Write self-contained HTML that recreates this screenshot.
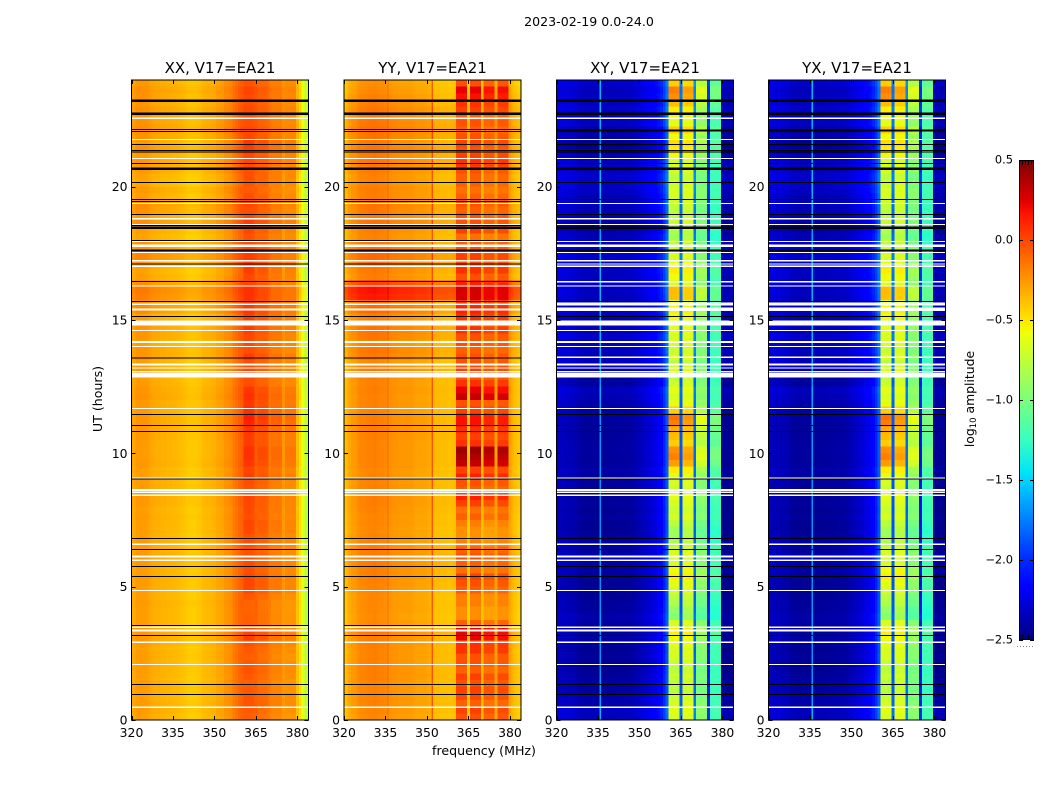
<!DOCTYPE html>
<html>
<head>
<meta charset="utf-8">
<title>2023-02-19 0.0-24.0</title>
<style>
html,body{margin:0;padding:0;background:#fff;}
svg{display:block;}
text{font-family:"DejaVu Sans","Liberation Sans",sans-serif;fill:#000;}
</style>
</head>
<body>
<svg id="figure" xmlns="http://www.w3.org/2000/svg" width="1050" height="800" viewBox="0 0 1050 800">
<text x="589" y="26" font-size="12.6" text-anchor="middle">2023-02-19 0.0-24.0</text>
<text x="484" y="755" font-size="12.6" text-anchor="middle">frequency (MHz)</text>
<text x="102" y="399" font-size="12.6" text-anchor="middle" transform="rotate(-90 102 399)">UT (hours)</text>
<text x="974" y="399" font-size="12.4" text-anchor="middle" transform="rotate(-90 974 399)">log<tspan font-size="8.5" dy="2">10</tspan><tspan dy="-2"> amplitude</tspan></text>
</svg>
<script>
// ---------- chart data ----------
const channels = [320,321,322,323,324,325,326,327,328,329,330,331,332,333,334,335,336,337,338,339,340,341,342,343,344,345,346,347,348,349,350,351,352,353,354,355,356,357,358,359,360,361,362,363,364,365,366,367,368,369,370,371,372,373,374,375,376,377,378,379,380,381,382,383];
const rowHours = [0,0.25,0.5,0.75,1,1.25,1.5,1.75,2,2.25,2.5,2.75,3,3.25,3.5,3.75,4,4.25,4.5,4.75,5,5.25,5.5,5.75,6,6.25,6.5,6.75,7,7.25,7.5,7.75,8,8.25,8.5,8.75,9,9.25,9.5,9.75,10,10.25,10.5,10.75,11,11.25,11.5,11.75,12,12.25,12.5,12.75,13,13.25,13.5,13.75,14,14.25,14.5,14.75,15,15.25,15.5,15.75,16,16.25,16.5,16.75,17,17.25,17.5,17.75,18,18.25,18.5,18.75,19,19.25,19.5,19.75,20,20.25,20.5,20.75,21,21.25,21.5,21.75,22,22.25,22.5,22.75,23,23.25,23.5,23.75];
const freqTicks = [320,335,350,365,380];
const hourTicks = [0,5,10,15,20];
const colorbarTicks = [0.5,0,-0.5,-1,-1.5,-2,-2.5];
const colorbarLabels = ["0.5","0.0","\u22120.5","\u22121.0","\u22121.5","\u22122.0","\u22122.5"];
const subbandEdges = [[361,364],[366,369],[371,374],[376,379]];

// mean log10 amplitude per channel
const xxSpectrum = [-.32,-.31,-.27,-.27,-.27,-.27,-.28,-.31,-.32,-.33,-.33,-.34,-.34,-.35,-.35,-.36,-.36,-.37,-.38,-.39,-.41,-.42,-.42,-.42,-.41,-.4,-.37,-.36,-.36,-.35,-.34,-.31,-.3,-.29,-.25,-.24,-.22,-.17,-.14,-.1,-.08,-.05,-.05,-.05,-.06,-.08,-.11,-.11,-.11,-.12,-.17,-.19,-.19,-.19,-.19,-.26,-.23,-.23,-.23,-.23,-.38,-.5,-.62,-.78];
const yySpectrum = [-.43,-.38,-.32,-.28,-.28,-.24,-.22,-.22,-.21,-.2,-.2,-.19,-.2,-.21,-.21,-.22,-.25,-.25,-.26,-.26,-.27,-.27,-.27,-.27,-.27,-.28,-.3,-.3,-.3,-.3,-.31,-.33,-.38,-.38,-.38,-.39,-.39,-.39,-.4,-.4,-.38,-.12,-.12,-.12,-.13,-.42,-.12,-.12,-.12,-.12,-.38,-.18,-.18,-.18,-.18,-.3,-.14,-.14,-.14,-.14,-.3,-.36,-.4,-.43];
const xySpectrum = [-2.38,-2.36,-2.36,-2.38,-2.37,-2.39,-2.39,-2.4,-2.44,-2.44,-2.44,-2.45,-2.45,-2.45,-2.45,-2.45,-2.46,-2.46,-2.45,-2.45,-2.45,-2.45,-2.44,-2.44,-2.44,-2.44,-2.43,-2.43,-2.42,-2.4,-2.38,-2.36,-2.34,-2.32,-2.3,-2.28,-2.25,-2.2,-2.15,-2.05,-1.9,-.72,-.72,-.72,-.74,-1.9,-.7,-.68,-.68,-.69,-1.85,-1,-.98,-.98,-1,-2.1,-1.24,-1.22,-1.22,-1.24,-2.47,-2.47,-2.47,-2.47];
const yxSpectrum = [-2.39,-2.36,-2.37,-2.38,-2.38,-2.39,-2.4,-2.4,-2.44,-2.44,-2.45,-2.45,-2.45,-2.45,-2.45,-2.45,-2.46,-2.46,-2.45,-2.45,-2.45,-2.45,-2.44,-2.44,-2.44,-2.43,-2.43,-2.43,-2.42,-2.4,-2.38,-2.36,-2.34,-2.32,-2.3,-2.27,-2.25,-2.2,-2.14,-2.05,-1.9,-.72,-.71,-.72,-.74,-1.9,-.7,-.68,-.68,-.69,-1.85,-1,-.98,-.98,-1,-2.1,-1.24,-1.22,-1.22,-1.24,-2.47,-2.47,-2.47,-2.47];

// narrow interference lines: frequency (MHz) and log10 amplitude
const yyLineFreqs = [335.9,351.9];
const yyLineValues = [-.1,-.05];
const xyLineFreqs = [335.8];
const xyLineValues = [-1.7];
const yxLineFreqs = [335.8];
const yxLineValues = [-1.7];
const xxLineFreqs = [];
const xxLineValues = [];

// per-row offset outside the receiver band
const xxOffset = [0,.01,.01,0,.01,.01,0,.01,0,.01,0,.01,.02,.02,0,0,0,.01,0,0,.01,.01,0,.02,.02,.01,.01,0,0,0,.01,0,.02,.02,.01,.01,0,0,.02,.01,.01,.01,.02,.02,.03,.03,.02,.02,.04,.03,.01,.01,.02,0,.03,.03,0,.03,.03,.03,0,.06,.06,.1,.12,.05,0,-.01,.02,.08,.05,.03,-.01,0,.05,.02,.05,.06,0,.02,-.02,-.01,.02,.03,.01,.05,.02,.04,.06,.04,.03,.05,.03,.04,.05,.02];
const yyOffset = [0,.01,.02,.02,.02,.02,.03,.03,.02,.02,.02,.03,.03,.05,0,-.01,0,0,0,.01,.02,.03,.03,.05,.05,.04,.02,.01,0,.01,.01,.02,.03,.03,.02,.02,.01,.01,.02,.02,.02,.02,.03,.03,.03,.03,.02,.02,.02,.03,.02,.03,.05,0,.05,.06,.02,.06,.07,.05,.03,.1,.09,.35,.38,.22,.03,.05,.06,.1,.08,.05,.02,.03,.07,.05,.06,.07,.03,.04,.02,.02,.04,.06,.05,.07,.05,.07,.08,.06,.05,.06,.03,.02,0,-.02];
const xyOffset = [.1,.12,.06,.05,.02,.04,.02,0,0,.02,0,.02,.03,.02,.04,.06,.02,.02,0,.02,0,.02,.04,.06,.08,.02,.04,.02,0,0,.02,0,.02,0,0,.02,.03,.05,.02,.03,.03,.03,.02,.02,.03,.03,.05,.06,.08,.1,.02,.04,.08,.1,.08,.12,.1,.14,.1,.12,.1,.14,.08,.1,.12,.14,.1,.12,.1,.14,.12,.1,.08,.04,.05,.1,.08,.1,.08,.12,.14,.14,.1,.12,.08,.02,-.02,.06,.04,.12,.1,.14,.1,.12,.1,.15];
const yxOffset = [.1,.11,.06,.05,.03,.04,.02,0,0,.02,0,.02,.03,.02,.04,.05,.02,.02,0,.02,0,.02,.04,.06,.08,.02,.04,.02,0,0,.02,0,.02,0,0,.02,.03,.05,.02,.03,.03,.03,.02,.02,.03,.03,.05,.06,.08,.1,.02,.04,.08,.1,.08,.12,.1,.14,.1,.12,.1,.14,.08,.1,.12,.13,.1,.12,.1,.14,.12,.1,.08,.04,.05,.1,.08,.1,.08,.12,.14,.14,.1,.12,.08,.02,-.02,.06,.04,.12,.1,.14,.1,.12,.1,.15];

// per-row offset inside the receiver band
const xxBand = [-.02,0,.02,.02,0,-.02,0,.02,0,-.02,0,.03,.08,.05,-.02,-.02,-.03,-.03,0,.05,.06,.06,.03,.05,.03,.02,.03,.02,.05,.06,.03,.05,.05,.06,.02,.03,.08,.06,.1,.12,.12,.08,.08,.1,.15,.18,.12,.1,.12,.1,.03,.03,.05,.03,.08,.03,.05,.05,.08,.05,.08,.1,.1,.12,.12,.05,.05,.08,.05,.08,.06,.03,.02,.05,.08,.05,.03,.05,.03,0,.02,.03,.03,.05,.05,.08,.1,.05,.05,.03,.03,.05,.03,.05,.06,.02];
const yyBand = [.1,.15,.05,.12,.15,.1,.15,.05,.1,.1,.2,.2,.35,.35,.05,-.1,-.1,-.05,-.05,.05,.1,.15,0,.05,.1,.05,-.05,-.1,-.1,-.05,.05,0,.15,.25,.05,.1,.25,.15,.45,.5,.55,.2,.15,.2,.3,.3,.15,.1,.45,.35,.2,.1,.15,.1,.1,.05,.1,.1,.2,.1,.2,.25,.2,.4,.4,.25,.1,.2,.1,.15,.1,.05,0,.15,.1,.1,.05,.1,.05,0,.05,.05,.1,.2,.15,.1,.15,.1,.05,.1,.05,.15,.2,.3,.35,.1];
const xyBand = [.05,.1,.05,0,-.05,-.05,0,-.05,0,.05,.05,.1,.15,.2,.05,-.25,-.2,-.1,-.05,.05,.1,.2,.15,.05,.05,.05,-.1,-.15,-.15,-.05,.05,0,.05,.1,0,.05,.1,.2,.45,.55,.5,.3,.35,.4,.55,.6,.3,.1,.05,.1,0,-.05,.05,-.05,.05,0,.05,.05,.1,.05,.15,.2,.1,.35,.35,.05,.15,.2,.1,.05,0,-.05,-.15,-.1,0,-.05,-.05,0,.05,.05,0,-.05,.05,.05,.15,.2,.25,.15,.3,.1,.15,.2,.35,.5,.55,.3];
const yxBand = [.05,.1,.04,0,-.05,-.06,0,-.05,0,.05,.05,.1,.15,.2,.05,-.25,-.2,-.1,-.05,.05,.1,.2,.15,.05,.05,.05,-.1,-.15,-.15,-.05,.05,0,.05,.1,0,.05,.1,.2,.45,.55,.5,.3,.35,.4,.55,.6,.3,.1,.05,.1,0,-.05,.05,-.05,.05,0,.05,.05,.1,.05,.15,.2,.1,.35,.35,.05,.15,.2,.1,.05,0,-.05,-.15,-.1,0,-.05,-.05,0,.05,.05,0,-.05,.05,.05,.15,.2,.25,.15,.3,.1,.15,.2,.35,.5,.55,.3];

// relative strength of the row activity in each of the four sub-bands
const xxWeights = [1.1,.9,.7,.7];
const yyWeights = [1,1,1,.95];
const xyWeights = [1,.75,.65,.4];
const yxWeights = [1,.75,.65,.4];

// flagged time ranges in hours: [start, end]
const blackFlags = [[.944,.984],[1.319,1.359],[3.156,3.196],[3.516,3.556],[5.369,5.409],[5.744,5.784],[6.381,6.421],[6.794,6.834],[9.02,9.06],[10.806,10.846],[11.031,11.071],[11.444,11.484],[13.555,13.595],[15.119,15.159],[15.681,15.721],[16.416,16.456],[17.08,17.12],[17.56,17.64],[17.954,17.994],[18.42,18.5],[18.516,18.556],[18.944,18.984],[19.416,19.456],[19.491,19.531],[20.144,20.184],[20.634,20.714],[20.841,20.881],[21.28,21.32],[21.344,21.384],[21.554,21.594],[22.056,22.096],[22.116,22.156],[22.696,22.776],[23.184,23.264]];
const crossBlackFlags = [[.944,.984],[1.319,1.359],[3.156,3.196],[5.369,5.409],[5.744,5.784],[6.381,6.421],[6.794,6.834],[9.02,9.06],[10.806,10.846],[11.031,11.071],[11.444,11.484],[15.119,15.159],[15.681,15.721],[17.56,17.64],[18.42,18.5],[18.944,18.984],[19.491,19.531],[20.144,20.184],[20.634,20.714],[20.841,20.881],[21.28,21.32],[21.344,21.384],[21.554,21.594],[22.076,22.136],[22.696,22.776],[23.184,23.264]];
const whiteFlags = [[.45,.5],[2.069,2.109],[2.889,2.939],[3.315,3.385],[3.451,3.501],[4.844,4.884],[5.955,6.025],[6.09,6.16],[6.564,6.614],[8.4,8.45],[8.515,8.565],[8.595,8.655],[9.06,9.1],[11.669,11.709],[12.835,13.025],[13.041,13.081],[13.18,13.22],[13.29,13.36],[13.994,14.034],[14.14,14.21],[14.594,14.634],[14.793,14.983],[15.365,15.435],[15.555,15.625],[16.25,16.3],[16.989,17.039],[17.199,17.249],[17.504,17.544],[17.736,17.836],[17.924,17.964],[18.569,18.609],[18.769,18.829],[19.356,19.396],[21.044,21.084],[21.756,21.796],[22.534,22.594]];
const crossWhiteFlags = [[.45,.5],[2.069,2.109],[2.889,2.939],[3.315,3.385],[3.451,3.501],[4.844,4.884],[5.955,6.025],[6.09,6.16],[6.564,6.614],[8.4,8.45],[8.515,8.565],[8.595,8.655],[9.06,9.1],[11.669,11.709],[12.835,13.025],[13.041,13.081],[13.18,13.22],[13.29,13.36],[13.575,13.625],[13.994,14.034],[14.14,14.21],[14.594,14.634],[14.793,14.983],[15.33,15.47],[15.54,15.66],[16.25,16.3],[16.41,16.46],[16.989,17.039],[17.075,17.125],[17.199,17.249],[17.504,17.544],[17.736,17.836],[17.924,17.964],[18.569,18.609],[18.769,18.829],[19.356,19.396],[21.044,21.084],[21.756,21.796],[22.534,22.594]];

// ---------- geometry and scales ----------
const NS = 'http://www.w3.org/2000/svg';
const svg = document.getElementById('figure');
const plotTop = 80, plotBottom = 720, plotWidth = 177;
const freqMin = 320, freqMax = 384, hourMax = 24, vMin = -2.5, vMax = 0.5;
const cbLeft = 1019, cbRight = 1034, cbTop = 160, cbBottom = 640;

function xScale(x0, f){ return x0 + (f - freqMin) * plotWidth / (freqMax - freqMin); }
function yScale(h){ return plotBottom - h * (plotBottom - plotTop) / hourMax; }
function cbScale(v){ return cbBottom - (v - vMin) * (cbBottom - cbTop) / (vMax - vMin); }

function interp(t, pts){
  if (t <= pts[0][0]) return pts[0][1];
  for (let i = 1; i < pts.length; i++){
    if (t <= pts[i][0]){
      const a = pts[i-1], b = pts[i];
      return a[1] + (b[1]-a[1]) * (t-a[0]) / (b[0]-a[0]);
    }
  }
  return pts[pts.length-1][1];
}
const jetR = [[0,0],[.35,0],[.66,1],[.89,1],[1,.5]];
const jetG = [[0,0],[.125,0],[.375,1],[.64,1],[.91,0],[1,0]];
const jetB = [[0,.5],[.11,1],[.34,1],[.65,0],[1,0]];
function jet(v){
  const t = Math.min(1, Math.max(0, (v - vMin) / (vMax - vMin)));
  const c = [jetR, jetG, jetB].map(p => Math.round(255 * interp(t, p)));
  return 'rgb(' + c.join(',') + ')';
}
function subbandOf(f){
  for (let s = 0; s < subbandEdges.length; s++){
    if (f >= subbandEdges[s][0] && f <= subbandEdges[s][1]) return s;
  }
  return -1;
}
function make(parent, tag, attrs){
  const el = document.createElementNS(NS, tag);
  for (const k in attrs) el.setAttribute(k, attrs[k]);
  parent.appendChild(el);
  return el;
}

// ---------- panels ----------
const panels = [
  {key:'xx', title:'XX, V17=EA21', x0:131.5, spectrum:xxSpectrum, offset:xxOffset, band:xxBand, weights:xxWeights, black:blackFlags, white:whiteFlags, lineFreqs:xxLineFreqs, lineValues:xxLineValues},
  {key:'yy', title:'YY, V17=EA21', x0:344, spectrum:yySpectrum, offset:yyOffset, band:yyBand, weights:yyWeights, black:blackFlags, white:whiteFlags, lineFreqs:yyLineFreqs, lineValues:yyLineValues},
  {key:'xy', title:'XY, V17=EA21', x0:556.5, spectrum:xySpectrum, offset:xyOffset, band:xyBand, weights:xyWeights, black:crossBlackFlags, white:crossWhiteFlags, lineFreqs:xyLineFreqs, lineValues:xyLineValues},
  {key:'yx', title:'YX, V17=EA21', x0:768.5, spectrum:yxSpectrum, offset:yxOffset, band:yxBand, weights:yxWeights, black:crossBlackFlags, white:crossWhiteFlags, lineFreqs:yxLineFreqs, lineValues:yxLineValues}
];

panels.forEach(function(p){
  const g = make(svg, 'g', {});
  
  

  const cells = make(g, 'g', {'shape-rendering':'crispEdges'});
  
  

  rowHours.forEach(function(h, r){
    const yTop = yScale(h + (rowHours[1] - rowHours[0]));
    const yBot = yScale(h);
    channels.forEach(function(f, c){
      const s = subbandOf(f);
      const v = p.spectrum[c] + (s >= 0 ? p.band[r] * p.weights[s] : p.offset[r]);
      const x1 = xScale(p.x0, Math.max(freqMin, f - 0.5));
      const x2 = xScale(p.x0, c === channels.length - 1 ? freqMax : f + 0.5);
      const cell = make(cells, 'rect', {x:x1, y:yTop, width:x2-x1, height:yBot-yTop, fill:jet(v)});
      
      
    });
    p.lineFreqs.forEach(function(f, k){
      const x1 = xScale(p.x0, f - 0.2), x2 = xScale(p.x0, f + 0.2);
      const mark = make(cells, 'rect', {x:x1, y:yTop, width:Math.max(1, x2-x1), height:yBot-yTop, fill:jet(p.lineValues[k] + p.offset[r])});
      
      
    });
  });

  const flagGroup = make(g, 'g', {'shape-rendering':'crispEdges'});
  
  
  p.black.forEach(function(iv){
    const line = make(flagGroup, 'rect', {x:p.x0, y:yScale(iv[1]), width:plotWidth, height:yScale(iv[0])-yScale(iv[1]), fill:'#000'});
    
    
  });
  p.white.forEach(function(iv){
    const line = make(flagGroup, 'rect', {x:p.x0, y:yScale(iv[1]), width:plotWidth, height:yScale(iv[0])-yScale(iv[1]), fill:'#fff'});
    
    
  });

  const frame = make(g, 'rect', {x:p.x0, y:plotTop, width:plotWidth, height:plotBottom-plotTop, fill:'none', stroke:'#000', 'stroke-width':1});
  
  

  const title = make(g, 'text', {x:p.x0 + plotWidth/2, y:73, 'font-size':15, 'text-anchor':'middle'});
  title.textContent = p.title;
  
  

  freqTicks.forEach(function(f){
    const x = Math.round(xScale(p.x0, f)) + 0.5;
    const t1 = make(g, 'line', {x1:x, x2:x, y1:plotBottom, y2:plotBottom-4, stroke:'#000', 'stroke-width':1});
    
    
    const t2 = make(g, 'line', {x1:x, x2:x, y1:plotTop, y2:plotTop+4, stroke:'#000', 'stroke-width':1});
    
    
    const lab = make(g, 'text', {x:xScale(p.x0, f), y:737, 'font-size':12.4, 'text-anchor':'middle'});
    lab.textContent = String(f);
    
    
  });
  hourTicks.forEach(function(h){
    const y = Math.round(yScale(h)) + 0.5;
    const t1 = make(g, 'line', {x1:p.x0, x2:p.x0+4, y1:y, y2:y, stroke:'#000', 'stroke-width':1});
    
    
    const t2 = make(g, 'line', {x1:p.x0+plotWidth, x2:p.x0+plotWidth-4, y1:y, y2:y, stroke:'#000', 'stroke-width':1});
    
    
    const lab = make(g, 'text', {x:p.x0-4, y:yScale(h)+4.5, 'font-size':12.4, 'text-anchor':'end'});
    lab.textContent = String(h);
    
    
  });
});

// ---------- colorbar ----------
const cb = make(svg, 'g', {});


const defs = make(cb, 'defs', {});
const grad = make(defs, 'linearGradient', {id:'jetGradient', x1:0, y1:1, x2:0, y2:0});
const gradStops = [-2.5,-2.25,-2,-1.75,-1.5,-1.25,-1,-.75,-.5,-.25,0,.25,.5,-2.17,-1.45,-.58,-.55,-.45,.17,.2];
gradStops.slice().sort(function(a,b){return a-b;}).forEach(function(v){
  make(grad, 'stop', {offset:(v - vMin) / (vMax - vMin), 'stop-color':jet(v)});
});
const bar = make(cb, 'rect', {x:cbLeft+0.5, y:cbTop+0.5, width:cbRight-cbLeft-1, height:cbBottom-cbTop-1, fill:'url(#jetGradient)', stroke:'#000', 'stroke-width':1});


colorbarTicks.forEach(function(v, i){
  const y = Math.round(cbScale(v)) + 0.5;
  const t1 = make(cb, 'line', {x1:cbLeft, x2:cbLeft+4, y1:y, y2:y, stroke:'#000', 'stroke-width':1});
  
  
  const t2 = make(cb, 'line', {x1:cbRight, x2:cbRight-4, y1:y, y2:y, stroke:'#000', 'stroke-width':1});
  
  
  const lab = make(cb, 'text', {x:1013, y:cbScale(v)+3.5, 'font-size':11.4, 'text-anchor':'end'});
  lab.textContent = colorbarLabels[i];
  
  
});
[1022.5,1025.5,1028.5,1031.5].forEach(function(x){
  const a = make(cb, 'line', {x1:x, x2:x, y1:cbTop, y2:cbTop+5, stroke:'#000', 'stroke-width':1});
  
  
  const b = make(cb, 'line', {x1:x, x2:x, y1:cbBottom, y2:cbBottom-5, stroke:'#000', 'stroke-width':1});
  
  
});
const dots = make(cb, 'line', {x1:1017, x2:1035, y1:646.5, y2:646.5, stroke:'#888', 'stroke-width':1, 'stroke-dasharray':'1 2'});


</script>
</body>
</html>
